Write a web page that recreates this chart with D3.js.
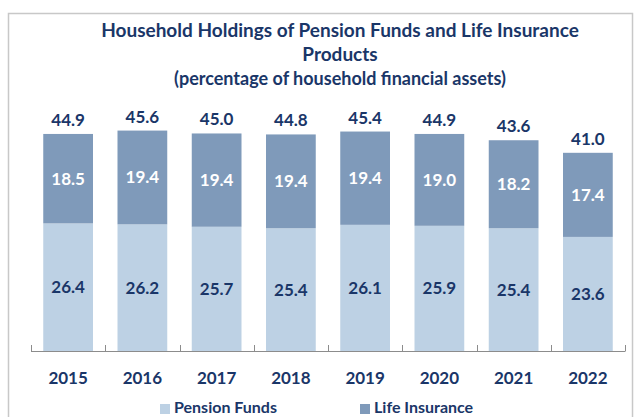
<!DOCTYPE html>
<html>
<head>
<meta charset="UTF-8">
<title>Household Holdings of Pension Funds and Life Insurance Products</title>
<script src="https://d3js.org/d3.v7.min.js"></script>
<style>
  body { margin: 0; background: #fff; }
  text { font-family: Lato, "Open Sans", sans-serif; font-weight: bold; }
</style>
</head>
<body>
<svg width="634" height="417"></svg>
<script>
// Data
const years = ["2015", "2016", "2017", "2018", "2019", "2020", "2021", "2022"];
const pensionFunds = [26.4, 26.2, 25.7, 25.4, 26.1, 25.9, 25.4, 23.6];
const lifeInsurance = [18.5, 19.4, 19.4, 19.4, 19.4, 19.0, 18.2, 17.4];
const totals = [44.9, 45.6, 45.0, 44.8, 45.4, 44.9, 43.6, 41.0];

const navy = "#1a3668";
const lightBlue = "#bdd1e4";
const darkBlue = "#7f9aba";

const svg = d3.select("svg");

// chart frame
svg.append("rect")
  .attr("x", 8.5).attr("y", 13.5)
  .attr("width", 624).attr("height", 420)
  .attr("fill", "none")
  .attr("stroke", "#c8c8c8")
  .attr("stroke-width", 1.5);

// Title
const title = ["Household Holdings of Pension Funds and Life Insurance", "Products", "(percentage of household financial assets)"];
svg.selectAll(".title")
  .data(title)
  .join("text")
  .attr("x", 340)
  .attr("y", (d, i) => 37 + i * 24)
  .attr("text-anchor", "middle")
  .attr("fill", navy)
  .style("font-size", (d, i) => i < 2 ? "19px" : "18px")
  .text(d => d);

// Scales
const x = d3.scaleBand()
  .domain(years)
  .range([31, 625])
  .paddingInner(0.33)
  .paddingOuter(0.165);

const y = d3.scaleLinear()
  .domain([0, 50])
  .range([351, 109.3]);

const rows = years.map((yr, i) => ({ year: yr, pension: pensionFunds[i], life: lifeInsurance[i], total: totals[i] }));

// Pension funds segment
svg.append("g").selectAll("rect")
  .data(rows)
  .join("rect")
  .attr("x", d => x(d.year))
  .attr("width", x.bandwidth())
  .attr("y", d => y(d.pension))
  .attr("height", d => y(0) - y(d.pension))
  .attr("fill", lightBlue);

// Life insurance segment
svg.append("g").selectAll("rect")
  .data(rows)
  .join("rect")
  .attr("x", d => x(d.year))
  .attr("width", x.bandwidth())
  .attr("y", d => y(d.total))
  .attr("height", d => y(d.pension) - y(d.total))
  .attr("fill", darkBlue);

// Segment labels
svg.append("g").selectAll("text")
  .data(rows)
  .join("text")
  .attr("x", d => x(d.year) + x.bandwidth() / 2)
  .attr("y", d => y(d.pension / 2) + 6)
  .attr("text-anchor", "middle")
  .attr("fill", navy)
  .style("font-size", "17px")
  .text(d => d.pension.toFixed(1));

svg.append("g").selectAll("text")
  .data(rows)
  .join("text")
  .attr("x", d => x(d.year) + x.bandwidth() / 2)
  .attr("y", d => y(d.pension + d.life / 2) + 6)
  .attr("text-anchor", "middle")
  .attr("fill", "#ffffff")
  .style("font-size", "17px")
  .text(d => d.life.toFixed(1));

// Total labels
svg.append("g").selectAll("text")
  .data(rows)
  .join("text")
  .attr("x", d => x(d.year) + x.bandwidth() / 2)
  .attr("y", d => y(d.total) - 8)
  .attr("text-anchor", "middle")
  .attr("fill", navy)
  .style("font-size", "17px")
  .text(d => d.total.toFixed(1));

// X axis with category ticks between bands
const step = x.step();
const boundaries = d3.range(years.length + 1).map(i => x.range()[0] + i * step);
const axis = svg.append("g").attr("stroke", "#8c8c8c").attr("stroke-width", 1);
axis.append("line")
  .attr("x1", boundaries[0]).attr("x2", boundaries[boundaries.length - 1])
  .attr("y1", y(0) + 0.5).attr("y2", y(0) + 0.5);
axis.selectAll(".tick")
  .data(boundaries)
  .join("line")
  .attr("x1", d => Math.round(d) + 0.5).attr("x2", d => Math.round(d) + 0.5)
  .attr("y1", y(0) - 6).attr("y2", y(0) + 0.5);

svg.append("g").selectAll("text")
  .data(years)
  .join("text")
  .attr("x", d => x(d) + x.bandwidth() / 2)
  .attr("y", 384)
  .attr("text-anchor", "middle")
  .attr("fill", navy)
  .style("font-size", "17px")
  .text(d => d);

// Legend
const legendItems = [
  { name: "Pension Funds", color: lightBlue, x: 160 },
  { name: "Life Insurance", color: darkBlue, x: 360 }
];
const lg = svg.append("g").selectAll("g")
  .data(legendItems)
  .join("g")
  .attr("transform", d => `translate(${d.x},0)`);
lg.append("rect")
  .attr("x", 0).attr("y", 404)
  .attr("width", 10).attr("height", 10)
  .attr("fill", d => d.color);
lg.append("text")
  .attr("x", 14).attr("y", 413)
  .attr("fill", navy)
  .style("font-size", "16px")
  .text(d => d.name);
</script>
</body>
</html>
